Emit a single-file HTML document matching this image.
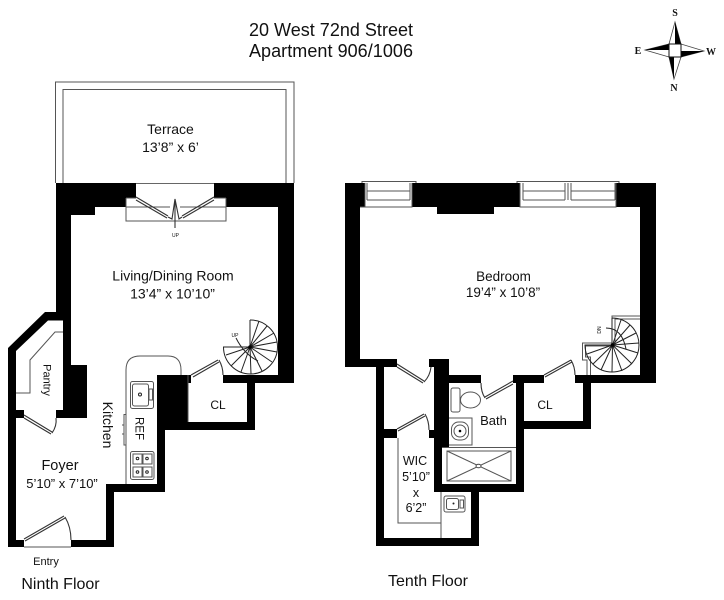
<!DOCTYPE html>
<html>
<head>
<meta charset="utf-8">
<style>
html,body{margin:0;padding:0;background:#fff;width:724px;height:600px;overflow:hidden}
svg{display:block;filter:blur(.3px)}
text{font-family:"Liberation Sans",sans-serif;fill:#111}
.l{fill:none;stroke:#555;stroke-width:1}
.d{fill:none;stroke:#333;stroke-width:1.1}
.s{fill:none;stroke:#222;stroke-width:1}
</style>
</head>
<body>
<svg width="724" height="600" viewBox="0 0 724 600" xmlns="http://www.w3.org/2000/svg">
<!-- Title -->
<text x="331" y="36" font-size="18" text-anchor="middle" textLength="164">20 West 72nd Street</text>
<text x="331" y="57" font-size="18" text-anchor="middle" textLength="164">Apartment 906/1006</text>

<!-- Compass -->
<polygon points="675,22 669,44 681,44" fill="#fff" stroke="#444" stroke-width=".8"/>
<polygon points="675,22 675,44 681,44" fill="#000"/>
<polygon points="674,79 669,57 681,57" fill="#fff" stroke="#444" stroke-width=".8"/>
<polygon points="674,79 674,57 669,57" fill="#000"/>
<polygon points="645,50 669,44 669,57" fill="#fff" stroke="#444" stroke-width=".8"/>
<polygon points="645,50 669,44 669,50" fill="#000"/>
<polygon points="704,51 681,44 681,57" fill="#fff" stroke="#444" stroke-width=".8"/>
<polygon points="704,51 681,51 681,57" fill="#000"/>
<rect x="669" y="44" width="12" height="13" fill="#fff" stroke="#111" stroke-width="1"/>
<text x="675" y="16" font-size="10" font-weight="bold" text-anchor="middle" style="font-family:'Liberation Serif',serif">S</text>
<text x="638" y="54" font-size="10" font-weight="bold" text-anchor="middle" style="font-family:'Liberation Serif',serif">E</text>
<text x="711" y="55" font-size="10" font-weight="bold" text-anchor="middle" style="font-family:'Liberation Serif',serif">W</text>
<text x="674" y="91" font-size="10" font-weight="bold" text-anchor="middle" style="font-family:'Liberation Serif',serif">N</text>

<!-- Terrace -->
<path class="l" d="M55.5,183V82H294V183M63,183V89.5H286V183"/>

<!-- NINTH FLOOR WALLS -->
<path fill="#000" d="M56,183H136V198H126V207H95V215H71V365H87V418H56V410H63V320.5H48L16,351V410H24V418H16V540H24V547H8V348L45,312H56Z"/>
<path fill="#000" d="M214,183H294V383H223V375H278V207H226V198H214Z"/>
<path fill="#000" d="M71,540H106V484H157V375H191V383H188V422H247V383H255V430H165V492H114V547H71Z"/>

<!-- Terrace doors -->
<path class="l" d="M126,198H136M214,198H226M126,198V221H226V198M126,207H170M180,207H226"/>
<path class="d" d="M136,197L168,216M136,200L167,218M214,197L182,216M214,200L183,218"/>
<path class="d" d="M168,217L172,219L175,199L179,219L182,217M175,199V228"/>
<rect x="136" y="183" width="78" height="1" fill="#666"/>
<text x="175.500" y="237" font-size="5" text-anchor="middle">UP</text>

<!-- Pantry -->
<path class="l" d="M63,332H55L30,360V393H16"/>
<path class="d" d="M24,415L52,432M24,418L51,434M52,433Q57,426 56,418"/>
<!-- Entry door -->
<path class="d" d="M24,539L64,516M25,541L65,518M65,517Q71,527 71,540"/>
<path class="l" d="M24,547H71"/>
<!-- Kitchen counter -->
<path class="l" d="M126,484V370Q126,356 140,356H168Q181,356 181,370V375"/>
<rect x="130.500" y="381.500" width="23" height="27" rx="2" class="l"/>
<rect x="132.500" y="384" width="16" height="22" rx="2" class="l"/>
<rect x="149" y="389" width="3.500" height="11" class="l"/>
<circle cx="140" cy="394.500" r="1.500" fill="#fff" stroke="#222"/>
<path class="l" d="M126,414.500H124V445H126M124,425H122M124,434H122"/>
<rect x="130.500" y="451.500" width="23.500" height="28" rx="2" class="l"/>
<rect x="133" y="454" width="9" height="10" class="l"/>
<rect x="143" y="454" width="9" height="10" class="l"/>
<rect x="133" y="467" width="9" height="10" class="l"/>
<rect x="143" y="467" width="9" height="10" class="l"/>
<circle cx="137.500" cy="458.500" r="1.300" class="s"/><circle cx="147" cy="458.500" r="1.300" class="s"/>
<circle cx="137.500" cy="472" r="1.300" class="s"/><circle cx="147" cy="472" r="1.300" class="s"/>
<!-- Closet door -->
<path class="d" d="M191,375L218,360M193,377L219,362M219,360Q223,367 223,375"/>
<path class="l" d="M188,375V422"/>

<!-- Ninth spiral stair -->
<path class="s" d="M250,320A27,27 0 1 1 223.500,347H250V320"/>
<g class="s">
<path d="M250,347L259,321M250,347L267,326M250,347L274,333M250,347L277,342M250,347L277,352M250,347L272,362M250,347L262,371M250,347L251,374M250,347L241,372M250,347L231,366"/>
<path d="M250,347L226,355"/>
<path d="M236,338Q244,354 258,361"/>
</g>
<circle cx="250" cy="347" r="1.800" fill="#000"/>
<text x="235" y="337" font-size="5" text-anchor="middle">UP</text>

<!-- TENTH FLOOR WALLS -->
<path fill="#000" d="M345,183H365V207H360V359H397V367H384V429H397V438H384V538H471V492H434V438H429V430H434V367H429V359H449V375H481V383H449V447H442V484H516V383H513V375H544V383H524V421H583V383H575V375H640V207H616V183H656V383H591V429H524V492H479V546H376V367H345Z"/>
<rect x="412" y="183" width="108" height="24" fill="#000"/>
<rect x="437" y="205" width="57" height="9" fill="#000"/>

<!-- Windows -->
<g class="l">
<path d="M362,183V181.500H416V183M365,183V207H412V183M367,183V200M410,183V200M367,191H410M367,200H410M360,207H365"/>
<path d="M517,183V181.500H619V183M520,183V207H616V183M523,183V200M615,183V200M523,191H565M571,191H615M523,200H565M571,200H615M565,183V200M568,183V200M571,183V200M520,207H616"/>
</g>

<!-- Tenth doors -->
<path class="d" d="M397,364L424,381M397,367L423,383M424,382Q430,376 431,367"/>
<path class="d" d="M397,429L424,414M398,431L425,416M425,414Q429,421 429,430"/>
<path class="d" d="M485,397L513,381M486,399L513,384M485,398Q481,392 481,383"/>
<path class="d" d="M544,375L571,360M545,377L572,362M571,360Q575,367 575,375"/>
<path class="l" d="M398,438V523H441M441,492V538"/>

<!-- Bath fixtures -->
<rect x="451" y="388" width="9" height="24" rx="2" class="l"/>
<ellipse cx="470.500" cy="400" rx="10" ry="8" class="l"/>
<path class="l" d="M449,418H472V445H449"/>
<rect x="451.500" y="422" width="17" height="18" rx="7" class="l"/>
<rect x="454" y="425" width="12" height="12" rx="6" class="l"/>
<circle cx="460" cy="431" r="1.300" fill="#000"/>
<path class="l" d="M442,447.500H516"/>
<rect x="447" y="451" width="64" height="30" class="l"/>
<path class="l" d="M447,451L511,481M447,481L511,451"/>
<ellipse cx="478.500" cy="466" rx="2.500" ry="1.800" fill="#fff" stroke="#444"/>
<!-- WIC sink -->
<rect x="444" y="496" width="21" height="16" rx="2" class="l"/>
<rect x="446.500" y="498.500" width="12" height="11" rx="2" class="l"/>
<rect x="460" y="500" width="3.500" height="8" class="l"/>
<circle cx="453.500" cy="503.500" r="1" fill="#222"/>

<!-- Tenth spiral stair -->
<path class="l" d="M612,345V316H640M615,345V319H640M612,343H582.500V360H587V375M615,346H585.500V357H590.500V375"/>
<path class="s" d="M612,318A27,27 0 1 1 585,345H612V318" fill="#fff"/>
<g class="s">
<path d="M612.500,345L621,320M612.500,345L630,325M612.500,345L636,333M612.500,345L639,343M612.500,345L638,353M612.500,345L632,364M612.500,345L622,371M612.500,345L612,372M612.500,345L601,370M612.500,345L593,364M612.500,345L587,354"/>
<path d="M606,328Q622,328 626,349"/>
</g>
<circle cx="612.500" cy="345" r="1.800" fill="#000"/>
<text x="0" y="0" font-size="5" text-anchor="middle" transform="translate(601,330) rotate(-90)">DN</text>

<!-- Labels -->
<text x="170.500" y="134" font-size="14" text-anchor="middle">Terrace</text>
<text x="170.500" y="152" font-size="14" text-anchor="middle">13’8” x 6’</text>
<text x="173" y="280.500" font-size="14" text-anchor="middle">Living/Dining Room</text>
<text x="172.500" y="298.500" font-size="14" text-anchor="middle">13’4” x 10’10”</text>
<text x="60" y="470" font-size="14.500" text-anchor="middle">Foyer</text>
<text x="62" y="488" font-size="13" text-anchor="middle">5’10” x 7’10”</text>
<text font-size="14" text-anchor="middle" transform="translate(103,425) rotate(90)">Kitchen</text>
<text font-size="11.500" text-anchor="middle" transform="translate(135.500,428.500) rotate(90)">REF</text>
<text font-size="11" text-anchor="middle" transform="translate(43.500,380) rotate(90)">Pantry</text>
<text x="218" y="409" font-size="12" text-anchor="middle">CL</text>
<text x="46" y="565" font-size="11" text-anchor="middle">Entry</text>
<text x="60.500" y="589" font-size="16" text-anchor="middle">Ninth Floor</text>
<text x="428" y="586" font-size="16" text-anchor="middle">Tenth Floor</text>
<text x="503.500" y="281" font-size="13.500" text-anchor="middle">Bedroom</text>
<text x="503" y="297" font-size="13.500" text-anchor="middle">19’4” x 10’8”</text>
<text x="493.500" y="425" font-size="13" text-anchor="middle">Bath</text>
<text x="545" y="409" font-size="12" text-anchor="middle">CL</text>
<text x="415" y="465" font-size="12.500" text-anchor="middle">WIC</text>
<text x="416" y="481" font-size="12.500" text-anchor="middle">5’10”</text>
<text x="416" y="497" font-size="12.500" text-anchor="middle">x</text>
<text x="416" y="512" font-size="12.500" text-anchor="middle">6’2”</text>
</svg>
</body>
</html>
